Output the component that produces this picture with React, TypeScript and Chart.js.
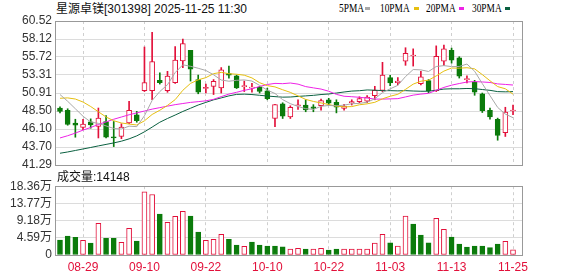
import React, { useEffect, useRef } from 'react';
import { Chart, registerables } from 'chart.js';

Chart.register(...registerables);

// ---------------- data ----------------
const title = '星源卓镁[301398] 2025-11-25 11:30';
const volumeLabel = '成交量:14148';
const maNames = ['5PMA', '10PMA', '20PMA', '30PMA'];

const dates = [
  '08-26', '08-27', '08-28', '08-29', '09-01', '09-02', '09-03', '09-04', '09-05', '09-08',
  '09-09', '09-10', '09-11', '09-12', '09-15', '09-16', '09-17', '09-18', '09-19', '09-22',
  '09-23', '09-24', '09-25', '09-26', '09-29', '09-30', '10-09', '10-10', '10-13', '10-14',
  '10-15', '10-16', '10-17', '10-20', '10-21', '10-22', '10-23', '10-24', '10-27', '10-28',
  '10-29', '10-30', '10-31', '11-03', '11-04', '11-05', '11-06', '11-07', '11-10', '11-11',
  '11-12', '11-13', '11-14', '11-17', '11-18', '11-19', '11-20', '11-21', '11-24', '11-25',
];
const axisDates = ['08-29', '09-10', '09-22', '10-10', '10-22', '11-03', '11-13', '11-25'];

const open = [
  48.9, 48.6, 46.9, 46.3, 47.05, 46.45, 47.1, 45.05, 45.1, 46.9,
  48.0, 51.2, 51.2, 52.6, 51.2, 52.3, 55.2, 56.6, 52.7, 51.5,
  51.8, 51.6, 53.5, 53.2, 51.75, 51.55, 51.65, 51.2, 47.5, 49.45,
  47.7, 49.2, 49.3, 49.05, 49.2, 50.0, 49.65, 48.85, 49.6, 49.75,
  49.8, 50.55, 51.25, 52.95, 52.3, 55.15, 55.85, 52.15, 52.55, 51.2,
  55.15, 56.6, 55.6, 52.7, 52.35, 50.8, 48.6, 47.4, 45.6, 48.5,
];
const high = [
  49.05, 48.8, 47.4, 47.4, 47.45, 48.9, 47.9, 47.1, 46.8, 49.8,
  48.45, 57.05, 59.0, 53.6, 53.8, 57.1, 58.1, 56.6, 53.3, 52.1,
  52.7, 54.3, 54.5, 53.3, 52.5, 52.2, 51.8, 51.55, 49.4, 49.6,
  49.2, 50.0, 50.0, 49.35, 50.1, 50.2, 50.0, 49.4, 50.0, 50.4,
  50.55, 51.8, 55.0, 53.25, 52.95, 56.95, 56.8, 53.8, 52.7, 57.2,
  57.3, 56.9, 55.75, 53.2, 52.6, 50.9, 48.9, 47.55, 49.0, 49.3,
];
const low = [
  48.25, 46.6, 45.0, 46.0, 46.2, 44.9, 44.9, 43.75, 44.8, 46.8,
  47.0, 51.1, 50.0, 52.1, 51.0, 52.2, 54.3, 52.5, 50.8, 50.9,
  50.7, 50.9, 52.9, 51.5, 51.1, 51.0, 50.9, 50.0, 46.4, 47.5,
  47.5, 48.7, 48.4, 48.4, 48.6, 49.3, 48.25, 48.6, 49.3, 49.6,
  49.6, 50.0, 51.1, 51.9, 52.0, 54.6, 54.5, 52.0, 50.95, 51.1,
  54.6, 54.9, 52.9, 52.25, 50.6, 48.3, 47.4, 44.6, 45.1, 48.0,
];
const close = [
  48.45, 46.7, 46.6, 46.75, 46.65, 47.55, 45.0, 44.9, 46.35, 48.6,
  47.2, 52.3, 55.1, 52.3, 53.15, 55.3, 57.5, 54.1, 51.0, 51.65,
  52.45, 54.0, 53.3, 51.6, 51.9, 51.7, 51.1, 50.15, 49.35, 47.8,
  49.0, 49.25, 48.65, 48.85, 49.9, 49.55, 49.0, 49.15, 49.75, 50.15,
  50.35, 51.25, 53.3, 52.25, 52.5, 56.2, 55.95, 53.05, 51.2, 55.8,
  56.8, 55.3, 53.15, 52.8, 51.0, 48.55, 47.7, 45.25, 48.35, 48.6,
];
// volume in 万
const volume = [
  3.99, 5.06, 4.7, 3.9, 3.19, 8.43, 4.44, 4.44, 3.37, 7.1,
  3.73, 16.85, 16.15, 10.91, 8.7, 10.3, 11.63, 10.38, 6.12, 3.9,
  4.17, 5.5, 4.17, 2.66, 2.3, 3.46, 2.66, 2.4, 2.4, 2.2,
  1.6, 1.78, 1.6, 1.6, 1.78, 1.33, 1.6, 1.6, 1.6, 1.6,
  1.6, 3.19, 5.5, 3.28, 2.4, 10.38, 8.25, 5.32, 3.28, 9.76,
  6.83, 4.79, 2.93, 2.13, 2.4, 2.4, 1.95, 2.93, 3.64, 1.41,
];
const ma5 = [
  50.7, 49.8, 48.8, 47.8, 47.03, 46.85, 46.51, 46.17, 46.09, 46.48,
  46.41, 47.87, 49.91, 51.10, 52.01, 53.63, 54.67, 54.47, 54.21, 53.91,
  53.34, 52.64, 52.48, 52.60, 52.65, 52.50, 51.92, 51.29, 50.84, 50.02,
  49.48, 49.11, 48.81, 48.71, 49.13, 49.24, 49.19, 49.29, 49.47, 49.52,
  49.68, 50.13, 50.96, 51.46, 51.93, 53.10, 54.04, 53.99, 53.78, 54.44,
  54.56, 54.43, 54.45, 54.77, 53.81, 52.16, 50.56, 48.98, 48.09, 47.61,
];
const ma10 = [
  50.2, 50.25, 50.1, 49.7, 49.1, 48.4, 47.7, 47.2, 46.9, 46.76,
  46.63, 47.19, 48.04, 48.60, 49.25, 50.02, 51.27, 52.19, 52.66, 52.96,
  53.49, 53.66, 53.48, 53.41, 53.28, 52.92, 52.28, 51.89, 51.72, 51.34,
  50.99, 50.52, 50.05, 49.78, 49.58, 49.36, 49.15, 49.05, 49.09, 49.33,
  49.46, 49.66, 50.13, 50.47, 50.73, 51.39, 52.09, 52.48, 52.62, 53.19,
  53.83, 54.24, 54.22, 54.28, 54.13, 53.36, 52.54, 51.76, 51.47, 50.75,
];
const ma20 = [
  44.9, 45.2, 45.55, 45.95, 46.3, 46.7, 47.05, 47.4, 47.7, 48.0,
  48.25, 48.5, 48.75, 48.95, 49.15, 49.35, 49.5, 49.65, 49.75, 49.86,
  50.06, 50.42, 50.76, 51.00, 51.26, 51.47, 51.78, 52.04, 52.19, 52.15,
  52.24, 52.09, 51.76, 51.59, 51.43, 51.14, 50.72, 50.47, 50.41, 50.33,
  50.23, 50.09, 50.09, 50.12, 50.15, 50.38, 50.62, 50.76, 50.86, 51.26,
  51.65, 51.95, 52.17, 52.37, 52.43, 52.38, 52.31, 52.12, 52.05, 51.97,
];
const ma30 = [
  42.86, 43.03, 43.23, 43.43, 43.63, 43.84, 44.04, 44.24, 44.47, 44.78,
  45.18, 45.72, 46.35, 47.0, 47.5, 47.96, 48.44, 48.87, 49.30, 49.65,
  49.99, 50.25, 50.52, 50.72, 50.75, 50.7, 50.6, 50.5, 50.42, 50.35,
  50.37, 50.45, 50.52, 50.59, 50.70, 50.77, 50.90, 51.04, 51.16, 51.21,
  51.31, 51.28, 51.22, 51.22, 51.19, 51.22, 51.17, 51.14, 51.14, 51.28,
  51.43, 51.47, 51.47, 51.51, 51.48, 51.37, 51.26, 51.09, 51.06, 51.09,
];
const priceTicks = ['41.29', '43.70', '46.10', '48.50', '50.91', '53.31', '55.72', '58.12', '60.52'];
const volumeTicks = ['0', '4.59万', '9.18万', '13.77万', '18.36万'];
const volumeMax = 18.36;

// ---------------- style ----------------
const FONT = "'Liberation Sans', 'Noto Sans CJK SC', sans-serif";
const RED = '#e2103a';
const GREEN = '#0b7b0b';
const MA_COLORS = ['#a8a8a8', '#e6bf10', '#ee22e6', '#0a6040'];
const X_MIN = -0.65;
const X_MAX = 60.17;
const LEGEND_TEXT_X = [339, 380, 425.5, 471.5];
const LEGEND_DASH_X = [364.5, 413.5, 458.5, 505];

const framePlugin = {
  id: 'frame',
  afterDraw(chart: any) {
    const { ctx, chartArea: a } = chart;
    ctx.save();
    ctx.strokeStyle = '#999';
    ctx.lineWidth = 1;
    ctx.strokeRect(Math.round(a.left) + 0.5, Math.round(a.top) + 0.5, Math.round(a.right - a.left), Math.round(a.bottom - a.top));
    ctx.restore();
  },
};

function xScale(showLabels: boolean): any {
  return {
    type: 'linear',
    min: X_MIN,
    max: X_MAX,
    offset: false,
    grid: { color: '#cfcfcf', drawTicks: false, offset: false, lineWidth: 1 },
    border: { display: false, dash: [3, 3] },
    afterBuildTicks: (s: any) => {
      s.ticks = axisDates.map((d) => ({ value: dates.indexOf(d) }));
    },
    afterFit: (s: any) => {
      s.height = showLabels ? 21 : 0;
    },
    ticks: {
      display: showLabels,
      autoSkip: false,
      maxRotation: 0,
      padding: 5,
      color: RED,
      font: { family: FONT, size: 12 },
      callback: (_v: any, i: number) => axisDates[i],
    },
  };
}

export default function App() {
  const priceRef = useRef<HTMLCanvasElement>(null);
  const volRef = useRef<HTMLCanvasElement>(null);

  useEffect(() => {
    const pMin = parseFloat(priceTicks[0]);
    const pMax = parseFloat(priceTicks[priceTicks.length - 1]);
    const idx = dates.map((_, i) => i);
    const up = idx.map((i) => close[i] >= open[i]);
    const volUp = idx.map((i) => (i === 0 ? close[i] >= open[i] : close[i] >= close[i - 1]));
    const mas = [ma5, ma10, ma20, ma30];

    const priceChart = new Chart(priceRef.current as HTMLCanvasElement, {
      type: 'bar',
      data: {
        datasets: [
          {
            type: 'bar',
            label: 'wick',
            data: idx.map((i) => ({ x: i, y: [low[i], high[i]] })) as any,
            backgroundColor: idx.map((i) => (up[i] ? RED : GREEN)),
            borderWidth: 0,
            barThickness: 1,
            grouped: false,
            order: 3,
          } as any,
          {
            type: 'bar',
            label: 'body',
            data: idx.map((i) => ({ x: i, y: [open[i], close[i]] })) as any,
            backgroundColor: idx.map((i) => (up[i] ? '#ffffff' : GREEN)),
            borderColor: idx.map((i) => (up[i] ? RED : GREEN)),
            borderWidth: 1,
            borderSkipped: false,
            barThickness: 5,
            minBarLength: 1,
            grouped: false,
            order: 2,
          } as any,
          ...mas.map((m, k) => ({
            type: 'line',
            label: maNames[k],
            data: m.map((v, i) => ({ x: i, y: v })),
            borderColor: MA_COLORS[k],
            borderWidth: 1,
            pointRadius: 0,
            tension: 0,
            fill: false,
            order: 1,
          } as any)),
        ],
      },
      options: {
        responsive: false,
        animation: false,
        events: [],
        layout: { padding: { top: 21, right: 56, bottom: 15, left: 0 } },
        plugins: { legend: { display: false }, tooltip: { enabled: false } },
        scales: {
          x: xScale(false),
          y: {
            min: pMin,
            max: pMax,
            grid: { color: '#dcdcdc', drawTicks: false },
            border: { display: false },
            afterBuildTicks: (s: any) => {
              s.ticks = priceTicks.map((_, k) => ({ value: pMin + ((pMax - pMin) * k) / (priceTicks.length - 1) }));
            },
            afterFit: (s: any) => {
              s.width = 55;
            },
            ticks: {
              autoSkip: false,
              padding: 3,
              color: '#333',
              font: { family: FONT, size: 12 },
              callback: (_v: any, i: number) => priceTicks[i],
            },
          },
        },
      } as any,
      plugins: [framePlugin],
    });

    const volChart = new Chart(volRef.current as HTMLCanvasElement, {
      type: 'bar',
      data: {
        datasets: [
          {
            label: '成交量',
            data: idx.map((i) => ({ x: i, y: volume[i] })) as any,
            backgroundColor: idx.map((i) => (volUp[i] ? '#ffffff' : GREEN)),
            borderColor: idx.map((i) => (volUp[i] ? RED : GREEN)),
            borderWidth: 1,
            borderSkipped: false,
            barThickness: 5,
            grouped: false,
          } as any,
        ],
      },
      options: {
        responsive: false,
        animation: false,
        events: [],
        layout: { padding: { top: 10, right: 56, bottom: 0, left: 0 } },
        plugins: { legend: { display: false }, tooltip: { enabled: false } },
        scales: {
          x: xScale(true),
          y: {
            min: 0,
            max: volumeMax,
            grid: { color: '#dcdcdc', drawTicks: false },
            border: { display: false },
            afterBuildTicks: (s: any) => {
              s.ticks = volumeTicks.map((_, k) => ({ value: (volumeMax * k) / (volumeTicks.length - 1) }));
            },
            afterFit: (s: any) => {
              s.width = 55;
            },
            ticks: {
              autoSkip: false,
              padding: 3,
              color: '#333',
              font: { family: FONT, size: 12 },
              callback: (_v: any, i: number) => volumeTicks[i],
            },
          },
        },
      } as any,
      plugins: [framePlugin],
    });

    return () => {
      priceChart.destroy();
      volChart.destroy();
    };
  }, []);

  return (
    <div style={{ position: 'absolute', left: 0, top: 0, width: 578, height: 276, background: '#fff', fontFamily: FONT, overflow: 'hidden' }}>
      <div style={{ position: 'absolute', left: 56, top: 3, fontSize: 12, lineHeight: '12px', color: '#111', whiteSpace: 'nowrap' }}>{title}</div>
      {maNames.map((n, k) => (
        <React.Fragment key={n}>
          <div
            style={{
              position: 'absolute',
              left: LEGEND_TEXT_X[k],
              top: 1,
              fontFamily: "'Liberation Serif', 'DejaVu Serif', serif",
              fontSize: 13,
              lineHeight: '13px',
              color: '#000',
              whiteSpace: 'nowrap',
              transform: 'scaleX(0.72)',
              transformOrigin: 'left top',
            }}
          >
            {n}
          </div>
          <div style={{ position: 'absolute', left: LEGEND_DASH_X[k], top: 7, width: 5, height: 3, background: MA_COLORS[k] }} />
        </React.Fragment>
      ))}
      <canvas ref={priceRef} width={578} height={180} style={{ position: 'absolute', left: 0, top: 0 }} />
      <div style={{ position: 'absolute', left: 57, top: 171, fontSize: 12, lineHeight: '12px', color: '#111', whiteSpace: 'nowrap' }}>{volumeLabel}</div>
      <canvas ref={volRef} width={578} height={100} style={{ position: 'absolute', left: 0, top: 176 }} />
    </div>
  );
}
